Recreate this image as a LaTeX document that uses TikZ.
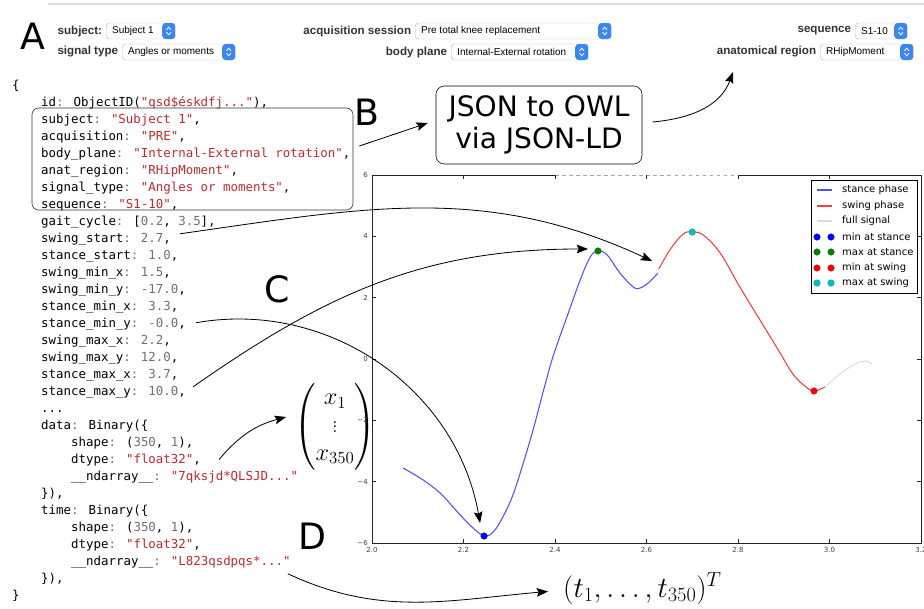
\documentclass[tikz,border=0pt]{standalone}
\usepackage{amsmath}
\usepackage[no-math]{fontspec}
\usepackage{tikz}
\usetikzlibrary{arrows.meta}
\newfontfamily\codefont{DejaVu Sans Mono}
\newfontfamily\labelfont{DejaVu Sans}
\newfontfamily\uifont{Liberation Sans}
\definecolor{codestr}{HTML}{C0282D}
\definecolor{codenum}{HTML}{707070}
\definecolor{menublue}{HTML}{3B87F0}
\definecolor{stanceblue}{HTML}{5050FF}
\definecolor{swingred}{HTML}{F04040}
\definecolor{fullgray}{HTML}{DDDDDD}
\definecolor{mgreen}{HTML}{008000}
\definecolor{mcyan}{HTML}{00BFBF}
\newcommand\cstr[1]{\textcolor{codestr}{"#1"}}
\newcommand\cnum[1]{\textcolor{codenum}{#1}}
\newcommand\ckey[1]{#1\textcolor{codenum}{:} }

\begin{document}
\begin{tikzpicture}[x=0.3mm,y=-0.3mm,
 code/.style={font=\codefont\fontsize{10.6}{14.5}\selectfont,anchor=base west,inner sep=0},
 metabox/.style={draw=black!80,rounded corners=2mm,line width=0.5pt,
 minimum width=96.3mm,minimum height=30.6mm},
 owlbox/.style={draw,rounded corners=2.5mm,align=center,line width=0.5pt,
 font=\labelfont\fontsize{24}{27.3}\selectfont,minimum width=61.8mm,minimum height=23.4mm},
 tag/.style={font=\labelfont\fontsize{31}{34}\selectfont,inner sep=0},
 arr/.style={-{Stealth[length=3.4mm,width=2.6mm,inset=0.6mm]},line width=0.7pt},
 menu/.style={draw=black!25,fill=white,rounded corners=1mm,minimum height=4.8mm,inner sep=0},
 menubtn/.style={fill=menublue,rounded corners=1mm,minimum width=3.9mm,minimum height=4.8mm,inner sep=0},
 menulabel/.style={font=\uifont\bfseries\fontsize{9.9}{11}\selectfont,text=black!80,inner sep=0},
 menutext/.style={font=\uifont\fontsize{8.5}{10}\selectfont,inner sep=0},
 chev/.style={white,line width=0.7pt},
 axisline/.style={line width=0.6pt,draw=black!85},
 ticklbl/.style={font=\labelfont\fontsize{6}{7}\selectfont,text=black!75,inner sep=0},
 curve/.style={line width=0.9pt},
 extremum/.style={circle,fill=#1,draw=#1!70!black,line width=0.2pt,inner sep=0,minimum size=2mm},
 legtext/.style={font=\labelfont\fontsize{8.5}{10}\selectfont,anchor=west,inner sep=0}]
 \useasboundingbox (0,0) rectangle (924,608);
 \draw[gray!25,line width=1.5pt] (48,4) -- (924,4);

 % selection menus
 \foreach \nm/\lbl/\lx/\rx/\yy/\txt in {subj/subject:/106/175/31/Subject 1,
 acq/acquisition session/415/611/31/Pre total knee replacement,
 seq/sequence/855/907/31/S1-10,
 sig/signal type/122/235/52/Angles or moments,
 plane/body plane/451/588/52/Internal-External rotation,
 region/anatomical region/820/913/52/RHipMoment}{
 \pgfmathsetmacro\menuw{(\rx-\lx)*0.3}
 \node[menu,minimum width=\menuw mm,anchor=west] (\nm) at (\lx,\yy) {};
 \node[menubtn,anchor=east] (\nm btn) at (\nm.east) {};
 \node[menutext,anchor=west] (\nm txt) at ([xshift=1.8mm]\nm.west) {\txt};
 \node[menulabel,anchor=east] (\nm lbl) at ([xshift=-1.1mm]\nm.west) {\lbl};
 \draw[chev] ([shift={(-2.2,-1.2)}]\nm btn.center) -- ++(2.2,-2.6) -- ++(2.2,2.6);
 \draw[chev] ([shift={(-2.2,1.2)}]\nm btn.center) -- ++(2.2,2.6) -- ++(2.2,-2.6);
 }

 % document
 \node[code] (open) at (12,89) {\{};
 \node[code] (id) at (41,106) {\ckey{id}ObjectID(\cstr{qsd\$éskdfj...}),};
 \node[code] (subject) at (41,123) {\ckey{subject}\cstr{Subject 1},};
 \node[code] (acquisition) at (41,140) {\ckey{acquisition}\cstr{PRE},};
 \node[code] (bodyplane) at (41,157) {\ckey{body\_plane}\cstr{Internal-External rotation},};
 \node[code] (anatregion) at (41,174) {\ckey{anat\_region}\cstr{RHipMoment},};
 \node[code] (signaltype) at (41,191) {\ckey{signal\_type}\cstr{Angles or moments},};
 \node[code] (sequence) at (41,208) {\ckey{sequence}\cstr{S1-10},};
 \node[code] (gaitcycle) at (41,225) {\ckey{gait\_cycle}[\cnum{0.2}, \cnum{3.5}],};
 \node[code] (swingstart) at (41,242) {\ckey{swing\_start}\cnum{2.7},};
 \node[code] (stancestart) at (41,259) {\ckey{stance\_start}\cnum{1.0},};
 \node[code] (swingminx) at (41,276) {\ckey{swing\_min\_x}\cnum{1.5},};
 \node[code] (swingminy) at (41,293) {\ckey{swing\_min\_y}\cnum{-17.0},};
 \node[code] (stanceminx) at (41,310) {\ckey{stance\_min\_x}\cnum{3.3},};
 \node[code] (stanceminy) at (41,327) {\ckey{stance\_min\_y}\cnum{-0.0},};
 \node[code] (swingmaxx) at (41,344) {\ckey{swing\_max\_x}\cnum{2.2},};
 \node[code] (swingmaxy) at (41,361) {\ckey{swing\_max\_y}\cnum{12.0},};
 \node[code] (stancemaxx) at (41,378) {\ckey{stance\_max\_x}\cnum{3.7},};
 \node[code] (stancemaxy) at (41,395) {\ckey{stance\_max\_y}\cnum{10.0},};
 \node[code] (more) at (41,412) {...};
 \node[code] (data) at (41,429) {\ckey{data}Binary(\{};
 \node[code] (datashape) at (71,446) {\ckey{shape}(\cnum{350}, \cnum{1}),};
 \node[code] (datadtype) at (71,463) {\ckey{dtype}\cstr{float32},};
 \node[code] (datanda) at (71,480) {\ckey{\_\_ndarray\_\_}\cstr{7qksjd*QLSJD...}};
 \node[code] (dataend) at (41,497) {\}),};
 \node[code] (time) at (41,514) {\ckey{time}Binary(\{};
 \node[code] (timeshape) at (71,531) {\ckey{shape}(\cnum{350}, \cnum{1}),};
 \node[code] (timedtype) at (71,548) {\ckey{dtype}\cstr{float32},};
 \node[code] (timenda) at (71,565) {\ckey{\_\_ndarray\_\_}\cstr{L823qsdpqs*...}};
 \node[code] (timeend) at (41,582) {\}),};
 \node[code] (close) at (12,599) {\}};
 \node[metabox] (meta) at (192.5,159) {};

 \node[tag] (taga) at (33,36) {A};
 \node[tag] (tagb) at (367,112) {B};
 \node[tag] (tagc) at (277,289) {C};
 \node[tag] (tagd) at (312,536) {D};
 \node[owlbox] (owl) at (539,125) {JSON to OWL\\via JSON-LD};
 \coordinate (owlgoal) at (733,72);

 \node[inner sep=0,font=\fontsize{19.5}{23.5}\selectfont] (vec) at (335,427)
 {$\begin{pmatrix}x_1\\ \vdots\\ x_{350}\end{pmatrix}$};
 \node[inner sep=0,anchor=base west,font=\fontsize{24.5}{29}\selectfont] (timevec) at (563,597)
 {$(t_1,\ldots,t_{350})^T$};

 % plot of the signal
 \begin{scope}[xshift=-162.9mm,yshift=-107.7mm,x=137.25mm,y=9.2mm]
 \draw[axisline] (2.4,6) -- (2.0,6) -- (2.0,-6) -- (3.2,-6) -- (3.2,6) -- (2.8,6);
 \draw[axisline,dashed,draw=black!35] (2.4,6) -- (2.8,6);
 \foreach \t [count=\k] in {2.0,2.2,2.4,2.6,2.8,3.0,3.2}{
 \draw[axisline] (\t,-6) -- ++(0,0.13) (\t,6) -- ++(0,-0.13);
 \node[ticklbl,anchor=north] (xt\k) at ([yshift=-1.2mm]\t,-6) {\t};
 }
 \foreach \v/\vl [count=\k] in {-6/−6,-4/−4,-2/−2,0/0,2/2,4/4,6/6}{
 \draw[axisline] (2.0,\v) -- ++(0.0087,0) (3.2,\v) -- ++(-0.0087,0);
 \node[ticklbl,anchor=east] (yt\k) at ([xshift=-1.2mm]2.0,\v) {\vl};
 }
 \draw[curve,fullgray] plot[smooth,tension=0.6] coordinates {(2.990,-0.913) (3.023,-0.489)
 (3.056,-0.163) (3.078,-0.065) (3.093,-0.163)};
 \draw[curve,stanceblue] plot[smooth,tension=0.6] coordinates {(2.068,-3.554) (2.112,-3.946)
 (2.149,-4.370) (2.177,-4.826) (2.199,-5.185) (2.221,-5.511) (2.245,-5.772) (2.265,-5.641)
 (2.286,-5.152) (2.308,-4.435) (2.330,-3.424) (2.352,-2.315) (2.374,-1.076) (2.396,0.098)
 (2.426,1.370) (2.455,2.576) (2.477,3.326) (2.494,3.522) (2.514,3.391) (2.542,2.804)
 (2.571,2.348) (2.586,2.315) (2.606,2.511) (2.625,2.804)};
 \draw[curve,swingred] plot[smooth,tension=0.6] coordinates {(2.627,2.935) (2.651,3.554)
 (2.680,4.076) (2.700,4.141) (2.724,4.043) (2.761,3.457) (2.804,2.348) (2.848,1.272)
 (2.892,0.196) (2.920,-0.489) (2.946,-0.880) (2.966,-1.043) (2.990,-0.913)};
 \node[extremum=blue] (minstance) at (2.245,-5.772) {};
 \node[extremum=mgreen] (maxstance) at (2.494,3.522) {};
 \node[extremum=red] (minswing) at (2.966,-1.043) {};
 \node[extremum=mcyan] (maxswing) at (2.700,4.141) {};
 \coordinate (swingmark) at (2.612,3.196);
 \end{scope}

 % legend
 \node[draw,line width=0.6pt,fill=white,minimum width=31.8mm,minimum height=33.9mm,
 inner sep=0,anchor=north west] (legend) at (811,180) {};
 \foreach \i/\ly/\col/\txt in {0/190/stanceblue/stance phase,1/206/swingred/swing phase,
 2/221/fullgray/full signal}{
 \draw[curve,draw=\col] (817,\ly) -- (832,\ly);
 \node[legtext] (leg\i) at (842,\ly) {\txt};
 }
 \foreach \i/\ly/\col/\txt in {3/237/blue/min at stance,4/252/mgreen/max at stance,
 5/268/red/min at swing,6/283/mcyan/max at swing}{
 \node[extremum=\col] (leg\i a) at (817,\ly) {};
 \node[extremum=\col] (leg\i b) at (831,\ly) {};
 \node[legtext] (leg\i) at (842,\ly) {\txt};
 }

 \draw[arr] ([shift={(6,-13)}]meta.east) -- ([shift={(-8,-2)}]owl.west);
 \draw[arr] ([shift={(10,-3)}]owl.east) to[out=5,in=-110] (owlgoal);
 \draw[arr] ([shift={(9,-5)}]swingstart.east) to[out=8,in=155] (swingmark);
 \draw[arr] ([shift={(10,-1)}]stanceminy.east) to[out=10,in=100] ([shift={(-4,-13)}]minstance.center);
 \draw[arr] ([shift={(7,-5)}]stancemaxy.east) to[out=35,in=180] ([shift={(-10,-2)}]maxstance.center);
 \draw[arr] ([shift={(18,0)}]datadtype.east) to[out=50,in=-165] ([shift={(-8,-10)}]vec.west);
 \draw[arr] ([shift={(-3,12)}]timenda.east) to[out=-25,in=-175] ([shift={(-15,3)}]timevec.west);
\end{tikzpicture}
\end{document}
